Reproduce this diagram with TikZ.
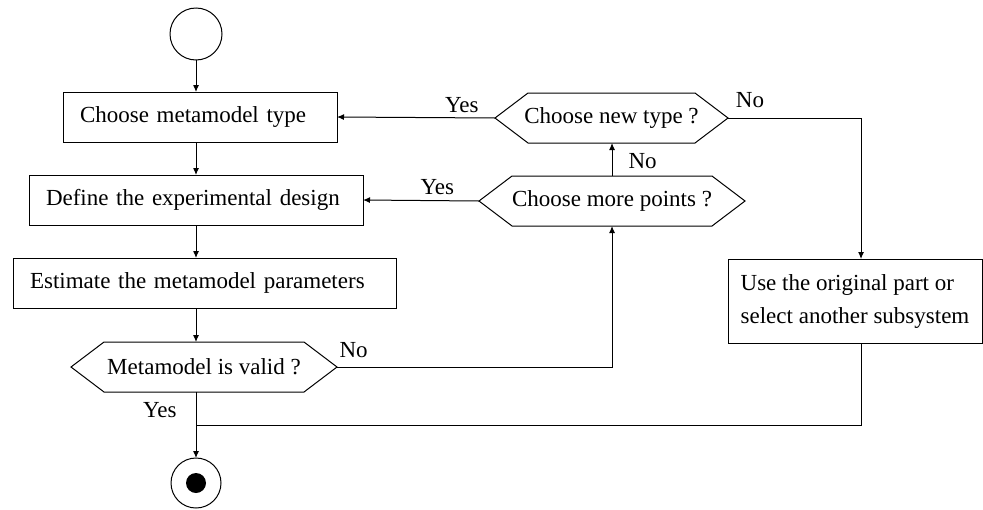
\documentclass[tikz,border=0pt]{standalone}
\usepackage{fontspec}
\setmainfont{Liberation Serif}
\usetikzlibrary{arrows.meta}
\newcommand\hexdraw[1]{\draw[line] (#1.west) -- ([xshift=16.5pt]#1.north west) -- ([xshift=-16.5pt]#1.north east) -- (#1.east) -- ([xshift=-16.5pt]#1.south east) -- ([xshift=16.5pt]#1.south west) -- cycle;}
\begin{document}
\begin{tikzpicture}[x=0.5pt,y=-0.5pt,
  every node/.style={font=\fontsize{11.5}{16.5}\selectfont},
  line/.style={line width=0.5pt},
  arr/.style={line, -{Latex[length=3.5pt,width=3pt]}},
  procbox/.style={draw, line width=0.5pt, rectangle, align=left, inner xsep=8.5pt, inner ysep=0pt, outer sep=0pt, minimum height=25pt},
  decide/.style={rectangle, inner sep=0pt, outer sep=0pt, minimum height=25pt},
  lbl/.style={inner sep=0pt}]
\useasboundingbox (0,0) rectangle (983,509);

% start / end
\node[draw, line, circle, minimum size=26pt, inner sep=0pt, outer sep=0pt] (start) at (196,34) {};
\node[draw, line, circle, minimum size=25pt, inner sep=0pt, outer sep=0pt] (endc) at (196,483) {};
\node[fill, circle, minimum size=10pt, inner sep=0pt] (enddot) at (196,483) {};

% process boxes
\node[procbox, text width=120pt] (choose) at (200,117) {Choose metamodel type};
\node[procbox, text width=150pt] (define) at (196,200) {Define the experimental design};
\node[procbox, text width=174.5pt] (estimate) at (204.5,283) {Estimate the metamodel parameters};
\node[procbox, inner xsep=4pt, minimum width=127pt, minimum height=42pt] (use) at (855,301) {Use the original part or\\select another subsystem};

% decisions
\node[decide, minimum width=133pt] (valid) at (204,367) {Metamodel is valid ?};
\node[decide, minimum width=116.5pt] (newtype) at (611.5,118) {Choose new type ?};
\node[decide, minimum width=133pt] (morepts) at (612,201) {Choose more points ?\hspace{11pt}};
\hexdraw{valid}
\hexdraw{newtype}
\hexdraw{morepts}

\coordinate (ucol) at (861,0);
\coordinate (joinpt) at (196,425);

% main flow
\draw[arr] (start) -- (start |- choose.north);
\draw[arr] (start |- choose.south) -- (start |- define.north);
\draw[arr] (start |- define.south) -- (start |- estimate.north);
\draw[arr] (start |- estimate.south) -- (start |- valid.north);
\draw[arr] (start |- valid.south) -- node[lbl, pos=0.27, left=9.5pt]{Yes} (endc);

% decision branches
\draw[arr] (newtype.west) -- node[lbl, pos=0.21, above=2.5pt]{Yes} (choose.east);
\draw[arr] (newtype.east) -- node[lbl, pos=0.165, above=5pt]{No} (newtype.east -| ucol) -- (ucol |- use.north);
\draw[arr] (morepts.north) -- node[lbl, pos=0.44, right=8pt]{No} (morepts.north |- newtype.south);
\draw[arr] (morepts.west) -- node[lbl, pos=0.36, above=2.5pt]{Yes} (define.east);
\draw[arr] (valid.east) -- node[lbl, pos=0, anchor=south west, xshift=1pt, yshift=4.5pt]{No} (valid.east -| morepts.south) -- (morepts.south);
\draw[line] (ucol |- use.south) -- (ucol |- joinpt) -- (joinpt);
\end{tikzpicture}
\end{document}
